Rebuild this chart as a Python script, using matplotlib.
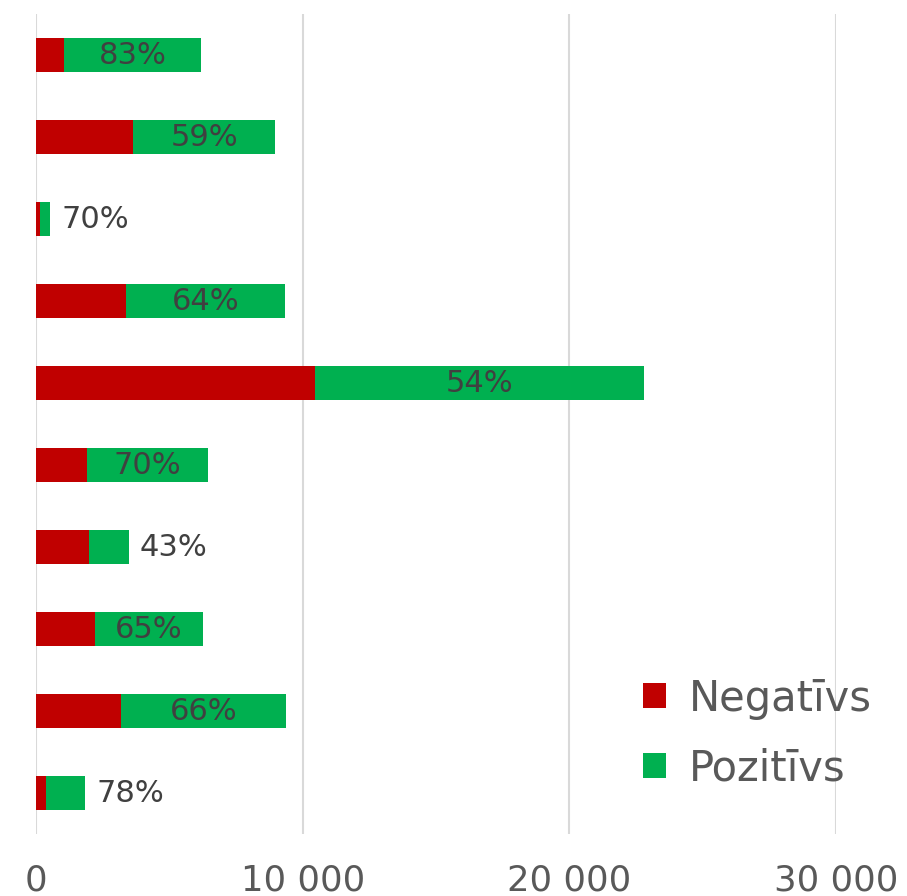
import matplotlib.pyplot as plt
import numpy as np

## Данные (сверху вниз)
negativs = np.array([1050, 3650, 160, 3360, 10450, 1920, 1980, 2200, 3180, 380])
pozitivs = np.array([5130, 5330, 370, 5970, 12350, 4520, 1500, 4050, 6180, 1460])
procenti = ["83%", "59%", "70%", "64%", "54%", "70%", "43%", "65%", "66%", "78%"]
xticks = [0, 10000, 20000, 30000]
xtick_labels = ["0", "10 000", "20 000", "30 000"]

red = "#C00000"
green = "#00B050"
text_dark = "#404040"
text_gray = "#595959"

fig = plt.figure(figsize=(9.07, 8.96), dpi=100)
ax = fig.add_axes([36 / 907, 1 - 834 / 896, 800 / 907, 820 / 896])

y = np.arange(len(negativs))
ax.barh(y, negativs, height=0.41, color=red, label="Negatīvs", zorder=3)
ax.barh(y, pozitivs, left=negativs, height=0.41, color=green, label="Pozitīvs", zorder=3)

## Подписи процентов
for i in range(len(y)):
    if pozitivs[i] > 2500:
        ax.text(negativs[i] + pozitivs[i] / 2, y[i], procenti[i], ha="center", va="center",
                fontsize=22, color=text_dark, zorder=4)
    else:
        ax.annotate(procenti[i], (negativs[i] + pozitivs[i], y[i]), xytext=(8, 0),
                    textcoords="offset points", ha="left", va="center",
                    fontsize=22, color=text_dark, zorder=4)

ax.set_xlim(0, 30000)
ax.set_ylim(len(y) - 0.5, -0.5)
ax.set_xticks(xticks)
ax.set_xticklabels(xtick_labels, fontsize=25.5, color=text_gray)
ax.set_yticks([])
ax.tick_params(axis="x", length=0, pad=21)
for s in ax.spines.values():
    s.set_visible(False)
ax.grid(axis="x", color="#D9D9D9", linewidth=1.5, zorder=0)
ax.set_axisbelow(True)

leg = ax.legend(loc="upper left", bbox_to_anchor=(590 / 800, 1 - 647 / 820), frameon=False,
                fontsize=30, handlelength=0.55, handleheight=0.55, handletextpad=0.55,
                labelspacing=0.66, borderaxespad=0)
for t in leg.get_texts():
    t.set_color(text_gray)

plt.savefig("out.png", dpi=100)
